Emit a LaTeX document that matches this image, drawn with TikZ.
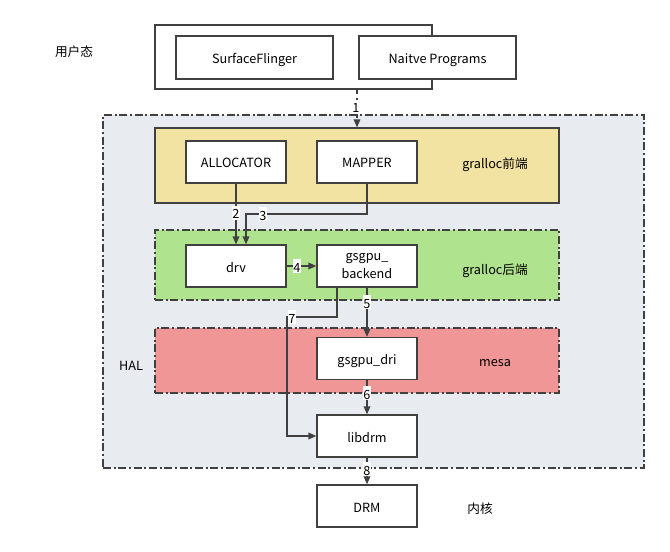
\documentclass[tikz,border=0pt]{standalone}
\usepackage{fontspec}
\setmainfont{Noto Sans CJK SC}
\usetikzlibrary{arrows.meta}

\definecolor{lineC}{RGB}{64,64,64}
\definecolor{halC}{RGB}{232,235,239}
\definecolor{frontC}{RGB}{242,227,162}
\definecolor{backC}{RGB}{176,227,142}
\definecolor{mesaC}{RGB}{241,150,150}

\tikzset{
  box/.style={draw=lineC, line width=1pt, fill=white, inner sep=0pt,
    minimum width=75pt, minimum height=31.5pt, text height=9pt, text depth=0pt},
  band/.style={draw=lineC, line width=1pt, inner sep=0pt, minimum width=303pt},
  dashdot/.style={dash pattern={on 6pt off 2pt on 1.5pt off 2pt}},
  conn/.style={draw=lineC, line width=1pt, -{Triangle[length=6pt,width=5pt]}},
  num/.style={fill=white, inner sep=0.6pt, text height=9.5pt, text depth=0.5pt},
  tag/.style={inner sep=0pt, text height=9pt, text depth=0pt}
}

\begin{document}
\begin{tikzpicture}[x=0.75pt,y=0.75pt,yscale=-1,xscale=1,font=\fontsize{9.5}{11}\selectfont]
\useasboundingbox (0,0) rectangle (670,552);

%HAL area
\node [band, dashdot, fill=halC, minimum width=405.75pt, minimum height=264.75pt] (hal) at (373.5,291.5) {};

%user space box
\node [box, minimum width=207.75pt, minimum height=48pt] (user) at (293.5,57) {};
\node [box, minimum width=117.75pt, minimum height=32.25pt] (sf) at (254.5,57.5) {SurfaceFlinger};
\node [box, minimum width=117.75pt, minimum height=32.25pt] (native) at (437.5,57.5) {Naitve Programs};

%gralloc front
\node [band, fill=frontC, minimum height=56.25pt] (front) at (357,165.5) {};
\node [box] (alloc) at (236,162) {ALLOCATOR};
\node [box] (mapper) at (367,162) {MAPPER};

%gralloc back
\node [band, dashdot, fill=backC, minimum height=52.5pt] (back) at (357,265) {};
\node [box] (drv) at (236,266) {drv};
\node [box, text height=, text depth=, align=center] (backend) at (367,266) {gsgpu\_\\[3pt]backend};

%mesa
\node [band, dashdot, fill=mesaC, minimum height=48.75pt] (mesa) at (357,360.5) {};
\node [box] (dri) at (367,358.5) {gsgpu\_dri};

\node [box] (libdrm) at (367,436) {libdrm};
\node [box] (drm) at (367,506) {DRM};

% Text Node
\node [tag] (tuser) at (74,51) {用户态};
\node [tag] (tfront) at (495,163) {gralloc前端};
\node [tag] (tback) at (495,268) {gralloc后端};
\node [tag] (tmesa) at (495,360) {mesa};
\node [tag] (thal) at (131,364) {HAL};
\node [tag] (tkern) at (480,507) {内核};

%connectors
\coordinate (k3) at (246,214);
\coordinate (k7) at (287,317);
\draw [conn, dashed] (user.south -| front.north) -- (front.north);
\draw [conn] (alloc.south) -- (drv.north);
\draw [conn] (mapper.south) |- (k3) -- ([xshift=7.5pt]drv.north);
\draw [conn] (drv.east) -- (backend.west);
\draw [conn] (backend.south) -- (dri.north);
\draw [conn] (dri.south) -- (libdrm.north);
\draw [conn] ([xshift=-22.5pt]backend.south) |- (k7) |- (libdrm.west);
\draw [conn, dashed] (libdrm.south) -- (drm.north);

%numbers
\node [num] (n1) at (356,107) {1};
\node [num] (n2) at (236,213) {2};
\node [num] (n3) at (263,214) {3};
\node [num] (n4) at (297,266) {4};
\node [num] (n5) at (367,302) {5};
\node [num] (n6) at (367,393) {6};
\node [num] (n7) at (292,317) {7};
\node [num] (n8) at (367,469) {8};

\end{tikzpicture}
\end{document}
